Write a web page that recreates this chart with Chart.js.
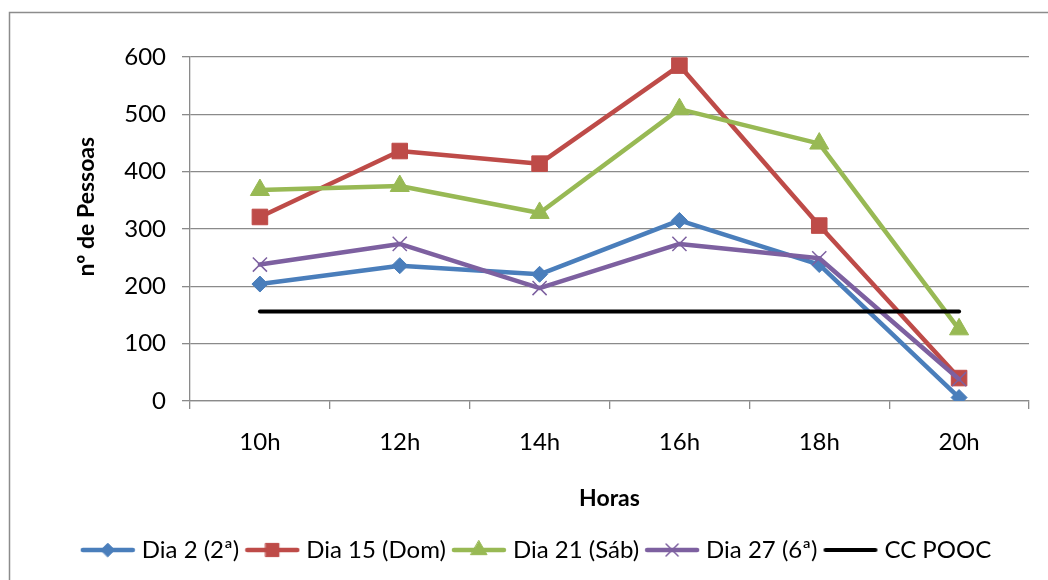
<!DOCTYPE html>
<html>
<head>
<meta charset="utf-8">
<script src="https://cdn.jsdelivr.net/npm/chart.js@4.4.1/dist/chart.umd.min.js"></script>
<style>
  html, body { margin: 0; padding: 0; background: #ffffff; }
  #wrap { width: 1048px; height: 580px; position: relative; }
</style>
</head>
<body>
<div id="wrap"><canvas id="c" width="1048" height="580"></canvas></div>
<script>
const categories = ['10h', '12h', '14h', '16h', '18h', '20h'];
const dia2  = [204, 236, 221, 315, 238, 6];
const dia15 = [321, 436, 414, 585, 306, 40];
const dia21 = [368, 375, 328, 509, 449, 125];
const dia27 = [238, 274, 197, 274, 249, 38];
const ccPooc = [156, 156, 156, 156, 156, 156];
const seriesNames = ['Dia 2 (2ª)', 'Dia 15 (Dom)', 'Dia 21 (Sáb)', 'Dia 27 (6ª)', 'CC POOC'];
const yTicks = [0, 100, 200, 300, 400, 500, 600];

const FONT = 'Lato, "Open Sans", sans-serif';
const colors = ['#4A7EBB', '#BE4B48', '#98B954', '#7D60A0', '#000000'];
const styles = ['rectRot', 'rect', 'triangle', 'crossRot', false];
const radii = [8, 11, 11, 10, 0];

function makeDataset(i, data) {
  return {
    label: seriesNames[i],
    data: data,
    borderColor: colors[i],
    backgroundColor: colors[i],
    borderWidth: i === 4 ? 4 : 4.5,
    borderCapStyle: 'round',
    borderJoinStyle: 'round',
    pointStyle: styles[i],
    pointRadius: radii[i],
    pointHoverRadius: radii[i],
    pointBackgroundColor: colors[i],
    pointBorderColor: colors[i],
    pointBorderWidth: i === 3 ? 1.5 : 1,
    tension: 0,
    order: 5 - i
  };
}

const frame = {
  id: 'frame',
  beforeDraw(chart) {
    const ctx = chart.ctx;
    ctx.save();
    ctx.fillStyle = '#ffffff';
    ctx.fillRect(0, 0, chart.width, chart.height);
    ctx.strokeStyle = '#8c8c8c';
    ctx.lineWidth = 1.5;
    ctx.beginPath();
    ctx.moveTo(9.5, 580); ctx.lineTo(9.5, 12.5); ctx.lineTo(1048, 12.5);
    ctx.stroke();
    ctx.restore();
  }
};

let legendImgs = null;

new Chart(document.getElementById('c'), {
  type: 'line',
  data: {
    labels: categories,
    datasets: [
      makeDataset(0, dia2),
      makeDataset(1, dia15),
      makeDataset(2, dia21),
      makeDataset(3, dia27),
      makeDataset(4, ccPooc)
    ]
  },
  plugins: [frame],
  options: {
    responsive: false,
    animation: false,
    devicePixelRatio: 1,
    layout: { padding: { left: 48, right: 19, top: 57, bottom: 8 } },
    plugins: {
      tooltip: { enabled: false },
      legend: {
        position: 'bottom',
        labels: {
          font: { family: FONT, size: 24 },
          color: '#000000',
          usePointStyle: true,
          pointStyleWidth: 44,
          padding: 11,
          generateLabels(chart) {
            if (!legendImgs) {
              legendImgs = chart.data.datasets.map((ds, i) => {
                const cv = document.createElement('canvas');
                cv.width = 56; cv.height = 22;
                const ctx = cv.getContext('2d');
                ctx.strokeStyle = colors[i];
                ctx.fillStyle = colors[i];
                ctx.lineWidth = i === 4 ? 4 : 4.5;
                ctx.lineCap = 'round';
                ctx.beginPath(); ctx.moveTo(3, 11); ctx.lineTo(53, 11); ctx.stroke();
                if (styles[i]) {
                  ctx.lineWidth = i === 3 ? 1.5 : 1;
                  Chart.helpers.drawPoint(ctx, {pointStyle: styles[i], radius: radii[i] * 0.85, rotation: 0, borderWidth: ctx.lineWidth}, 28, 11);
                }
                return cv;
              });
            }
            return chart.data.datasets.map((ds, i) => ({
              text: ds.label,
              fillStyle: colors[i],
              strokeStyle: colors[i],
              lineWidth: 0,
              pointStyle: legendImgs[i],
              fontColor: '#000000',
              hidden: false,
              datasetIndex: i
            }));
          }
        }
      }
    },
    scales: {
      x: {
        offset: true,
        grid: {
          offset: true,
          drawOnChartArea: false,
          drawTicks: true,
          tickLength: 8,
          color: '#8a8a8a',
          lineWidth: 1.3
        },
        border: { display: true, color: '#8a8a8a', width: 1.3 },
        ticks: {
          font: { family: FONT, size: 24 },
          color: '#000000',
          padding: 19,
          maxRotation: 0
        },
        title: {
          display: true,
          text: 'Horas',
          font: { family: FONT, size: 23, weight: 'bold' },
          color: '#000000',
          padding: { top: 0, bottom: 15 }
        },
        afterFit(scale) { scale.height = 126; }
      },
      y: {
        min: 0,
        max: 600,
        afterBuildTicks(scale) { scale.ticks = yTicks.map(v => ({ value: v })); },
        grid: {
          color: '#8a8a8a',
          lineWidth: 1.3,
          drawTicks: true,
          tickLength: 8
        },
        border: { display: true, color: '#8a8a8a', width: 1.3 },
        ticks: {
          font: { family: FONT, size: 24 },
          color: '#000000',
          padding: 16
        },
        title: {
          display: true,
          text: '\u00a0\u00a0\u00a0\u00a0\u00a0\u00a0\u00a0\u00a0nº de Pessoas',
          font: { family: FONT, size: 23, weight: 'bold' },
          color: '#000000',
          padding: { top: 25, bottom: 0 }
        },
        afterFit(scale) { scale.width = 142; }
      }
    }
  }
});
</script>
</body>
</html>
